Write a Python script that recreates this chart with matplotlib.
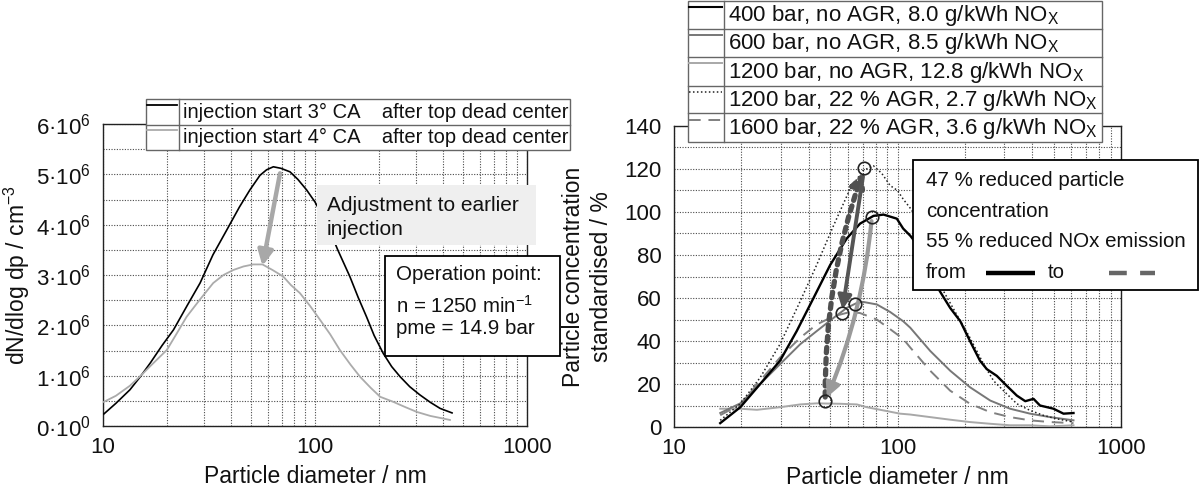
import matplotlib
matplotlib.use('Agg')
import matplotlib.pyplot as plt
from matplotlib.patches import Rectangle
from matplotlib.lines import Line2D
from matplotlib.ticker import FixedLocator, MultipleLocator, LogLocator, NullFormatter, FuncFormatter

plt.rcParams['font.family'] = ['Liberation Sans', 'DejaVu Sans']
plt.rcParams['mathtext.fontset'] = 'custom'
plt.rcParams['mathtext.rm'] = 'Liberation Sans'
plt.rcParams['mathtext.it'] = 'Liberation Sans:italic'
plt.rcParams['mathtext.bf'] = 'Liberation Sans:bold'

# ---------------- data: left chart (dN/dlog dp in 1e6 cm^-3) ----------------
left_labels = ["injection start 3\u00b0 CA    after top dead center",
               "injection start 4\u00b0 CA    after top dead center"]
d_3ca = [10.1, 11.5, 13.4, 15, 16.7, 19, 21.5, 25, 28.7, 33, 38.3, 44, 49.3, 55, 59.1,
         63.6, 69, 76.2, 83, 91.3, 100, 113.5, 128, 146, 160, 175, 190, 210, 230, 252,
         280, 312, 350, 389, 443]
n_3ca = [0.24, 0.45, 0.72, 0.98, 1.25, 1.6, 1.91, 2.4, 2.84, 3.4, 3.89, 4.35, 4.69, 4.98, 5.09,
         5.15, 5.12, 5.05, 4.9, 4.69, 4.45, 4.03, 3.5, 2.97, 2.55, 2.17, 1.8, 1.44, 1.18, 0.98,
         0.78, 0.62, 0.47, 0.35, 0.26]
d_4ca = [10.1, 11.5, 13.4, 14.9, 17, 20, 22, 24.8, 28.5, 33.1, 37, 41.2, 46, 51.1, 56.5,
         63, 70.8, 77, 84.9, 95, 105.6, 118, 131, 147, 163, 183, 203, 234, 265, 302, 350,
         390, 433]
n_4ca = [0.48, 0.6, 0.8, 0.98, 1.22, 1.51, 1.8, 2.17, 2.5, 2.84, 3.0, 3.1, 3.17, 3.21, 3.21,
         3.1, 2.97, 2.8, 2.64, 2.38, 2.11, 1.82, 1.51, 1.22, 0.98, 0.76, 0.58, 0.48, 0.38,
         0.28, 0.2, 0.16, 0.12]
left_arrow_d = [68.4, 56.5]
left_arrow_n = [5.02, 3.18]

# ---------------- data: right chart (standardised %) ----------------
right_labels = ["400 bar, no AGR, 8.0 g/kWh NO$_\\mathregular{X}$",
                "600 bar, no AGR, 8.5 g/kWh NO$_\\mathregular{X}$",
                "1200 bar, no AGR, 12.8 g/kWh NO$_\\mathregular{X}$",
                "1200 bar, 22 % AGR, 2.7 g/kWh NO$_\\mathregular{X}$",
                "1600 bar, 22 % AGR, 3.6 g/kWh NO$_\\mathregular{X}$"]
d_400 = [16.1, 19.8, 24.3, 29.8, 35.4, 42.1, 50, 59.3, 68, 78.1, 86.6, 99.3, 106, 114, 118,
         130, 142, 155, 172, 191, 211, 234, 251, 278, 308, 342, 373, 406, 434, 499, 553, 613]
v_400 = [1.8, 9.2, 20, 30.8, 44.6, 60, 75.4, 87.7, 94.6, 98.2, 98.8, 96.9, 92.3, 89, 87,
         78, 70, 63, 55.4, 49.2, 40, 30.8, 26.9, 23.8, 19.2, 14.6, 12, 13.1, 10, 8.5, 6.2, 6.5]
d_600 = [16.1, 19.8, 24.3, 29.8, 36.7, 43.5, 51.8, 59.3, 65.8, 70, 80.8, 92.7, 106, 114,
         140, 172, 211, 260, 319, 392, 482, 613]
v_600 = [6.5, 11, 20, 29.2, 38.5, 44.6, 50.8, 55.4, 57.7, 58.2, 57, 53.5, 49.2, 46.2,
         35.4, 26.2, 18.5, 12.3, 8.5, 6.2, 4.6, 3.1]
d_1200 = [16.1, 19.8, 23.5, 29.8, 36.7, 43.5, 55.4, 65.8, 72.9, 86.6, 102.8, 114, 140, 172,
          211, 260, 319, 392, 482, 613]
v_1200 = [8.5, 8.5, 8, 9.2, 10.5, 11, 10.8, 10.5, 9.2, 7.7, 6.2, 5.8, 4.6, 3.4,
          2.3, 1.5, 0.8, 0.8, 0.3, 0.8]
d_1200agr = [16.1, 19.8, 24.3, 29.8, 36.7, 43.5, 51.8, 61.4, 70, 78, 85, 92.7, 100, 106, 116,
             130, 145, 161, 184, 211, 243, 269, 298, 342, 392, 450, 516, 613]
v_1200agr = [3.1, 10.8, 23, 38.5, 58.5, 75.4, 93.8, 110.8, 119.2, 121.5, 118, 112.3, 110, 106,
             100.8, 88, 75, 63, 52.3, 41.5, 29.2, 21.5, 16.9, 10.8, 7.7, 5.4, 3.8, 2.3]
d_1600agr = [16.1, 19.8, 24.3, 29.8, 36.7, 43.5, 51.8, 61.4, 68, 80.8, 92.7, 106, 114, 140,
             172, 211, 260, 319, 392, 482, 613]
v_1600agr = [5.5, 10.5, 21.5, 32.3, 41.5, 47.7, 51.5, 53.5, 53, 50, 45.5, 41, 37, 26.2,
             16.9, 10.8, 6.9, 4.6, 3.1, 2.3, 1.8]
circle_d = [71, 76.8, 64.6, 56.4, 47.5]
circle_v = [120.3, 97.7, 57.4, 52.8, 12]

W, H = 1200, 490
fig = plt.figure(figsize=(12, 4.9), dpi=100)


def P(px, py):
    return (px / W, 1 - py / H)


def style(ax, ymax, ymajor, yminor):
    ax.set_xscale('log')
    ax.set_xlim(10, 1000)
    ax.set_ylim(0, ymax)
    ax.xaxis.set_major_locator(FixedLocator([10, 100, 1000]))
    ax.xaxis.set_minor_locator(LogLocator(base=10, subs=range(2, 10)))
    ax.xaxis.set_minor_formatter(NullFormatter())
    ax.xaxis.set_major_formatter(FuncFormatter(lambda v, p: f'{v:g}'))
    ax.yaxis.set_major_locator(MultipleLocator(ymajor))
    ax.yaxis.set_minor_locator(MultipleLocator(yminor))
    ax.grid(True, which='both', color='#4a4a4a', lw=0.8, ls=(0, (1, 1.4)))
    ax.tick_params(which='both', length=0, labelsize=16, labelcolor='#111111')
    ax.tick_params(axis='x', pad=8)
    ax.tick_params(axis='y', pad=9)
    for s in ax.spines.values():
        s.set_color('#222222')
        s.set_linewidth(1)
    ax.set_axisbelow(True)
    ax.set_xlabel('Particle diameter / nm', fontsize=16.5, color='#111111')
    ax.xaxis.set_label_coords(0.5, -0.13)


def rect(px0, py0, px1, py1, fc='white', ec='#555555', lw=1.0, z=5):
    x0, y1 = P(px0, py1)
    r = Rectangle((x0, y1), (px1 - px0) / W, (py1 - py0) / H, transform=fig.transFigure,
                  fc=fc, ec=ec, lw=lw, zorder=z)
    fig.add_artist(r)


def hline(px0, px1, py, **kw):
    (x0, y), (x1, _) = P(px0, py), P(px1, py)
    fig.add_artist(Line2D([x0, x1], [y, y], transform=fig.transFigure, zorder=6, **kw))


def vline(px, py0, py1, **kw):
    (x, y0), (_, y1) = P(px, py0), P(px, py1)
    fig.add_artist(Line2D([x, x], [y0, y1], transform=fig.transFigure, zorder=6, **kw))


def ftext(px, py, s, size, **kw):
    x, y = P(px, py)
    fig.text(x, y, s, fontsize=size, va='center', ha='left', zorder=7, color='#111111', **kw)


def sci_label(v, p):
    return '$\\mathregular{%d\u00b710^{%d}}$' % (round(v), 6 if v > 0 else 0)


# ---------------- left chart ----------------
axL = fig.add_axes([103 / W, 1 - 426 / H, 424 / W, 302 / H])
style(axL, 6, 1, 0.5)
axL.yaxis.set_major_formatter(FuncFormatter(sci_label))
axL.set_ylabel(r'dN/dlog dp / cm$^{\mathregular{-3}}$', fontsize=16.5, color='#111111')
axL.yaxis.set_label_coords(-0.168, 0.5)
axL.plot(d_3ca, n_3ca, color='black', lw=1.2, zorder=3)
axL.plot(d_4ca, n_4ca, color='#ababab', lw=1.3, zorder=3)

# annotation background box (light gray)
rect(317, 185, 536, 245, fc='#efefef', ec='none', z=2)
ftext(327, 205, 'Adjustment to earlier', 15)
ftext(327, 229, 'injection', 15)
axL.annotate('', xy=(left_arrow_d[1], left_arrow_n[1]), xytext=(left_arrow_d[0], left_arrow_n[0]),
             arrowprops=dict(arrowstyle='-|>,head_length=0.9,head_width=0.45', color='#a8a8a8',
                             lw=3.2, shrinkA=0, shrinkB=0), zorder=4)

# operation point box
rect(385, 256, 560, 356, ec='black', lw=1.3)
ftext(396, 275, 'Operation point:', 14.8)
ftext(396, 306, r'n = 1250 min$^{\mathregular{-1}}$', 14.8)
ftext(396, 329, 'pme = 14.9 bar', 14.8)

# left legend (table style)
rect(146, 99, 570, 150, ec='#666666', lw=1.0)
hline(146, 570, 124.5, color='#666666', lw=1.0)
vline(179, 99, 150, color='#666666', lw=1.0)
hline(147, 177, 105, color='black', lw=1.3)
hline(147, 177, 130, color='#ababab', lw=1.3)
ftext(183, 112, left_labels[0], 14.5)
ftext(183, 137, left_labels[1], 14.5)

# ---------------- right chart ----------------
axR = fig.add_axes([674 / W, 1 - 427 / H, 447 / W, 301 / H])
style(axR, 140, 20, 10)
axR.yaxis.set_major_formatter(FuncFormatter(lambda v, p: f'{v:g}'))
axR.set_ylabel('Particle concentration\nstandardised / %', fontsize=16.5, linespacing=1.3,
               color='#111111')
axR.yaxis.set_label_coords(-0.136, 0.5)

axR.plot(d_1200, v_1200, color='#a8a8a8', lw=1.4, zorder=3)
axR.plot(d_1600agr, v_1600agr, color='#808080', lw=1.4, ls=(0, (6, 4)), zorder=3)
axR.plot(d_600, v_600, color='#777777', lw=1.4, zorder=3)
axR.plot(d_1200agr, v_1200agr, color='#222222', lw=1.1, ls=(0, (1, 1.6)), zorder=3)
axR.plot(d_400, v_400, color='black', lw=1.7, zorder=3)

# arrows between operating points
axR.annotate('', xy=(circle_d[0], circle_v[0]), xytext=(circle_d[4], circle_v[4]),
             arrowprops=dict(arrowstyle='-|>,head_length=0.8,head_width=0.4', color='#505050',
                             lw=3.8, ls=(0, (1, 1.1)), shrinkA=3, shrinkB=3,
                             connectionstyle='arc3,rad=-0.09'), zorder=4)
axR.annotate('', xy=(circle_d[3], circle_v[3]), xytext=(circle_d[0], circle_v[0]),
             arrowprops=dict(arrowstyle='-|>,head_length=0.8,head_width=0.4', color='#555555',
                             lw=2.8, shrinkA=6, shrinkB=3), zorder=4)
axR.annotate('', xy=(circle_d[4], circle_v[4]), xytext=(circle_d[1], circle_v[1]),
             arrowprops=dict(arrowstyle='-|>,head_length=0.8,head_width=0.4', color='#9a9a9a',
                             lw=3.0, shrinkA=3, shrinkB=3, connectionstyle='arc3,rad=-0.08'),
             zorder=4)
axR.plot(circle_d, circle_v, ls='none', marker='o', ms=9, mfc='none', mec='#222222', mew=1.2,
         zorder=5)

# annotation box right
rect(913, 160, 1198, 290, ec='black', lw=1.3)
ftext(926, 180, '47 % reduced particle', 14.8)
ftext(926, 211, 'concentration', 14.8)
ftext(926, 241, '55 % reduced NOx emission', 14.8)
ftext(926, 272, 'from', 14.8)
ftext(1048, 272, 'to', 14.8)
hline(986, 1035, 272.5, color='black', lw=3.2, solid_capstyle='butt')
hline(1109, 1155, 272.5, color='#666666', lw=3.2, ls=(0, (4, 3)), dash_capstyle='butt')

# right legend (table style)
rows_y = [1, 29, 57, 86, 113, 142]
rect(688, 1, 1102, 142, ec='#666666', lw=1.0)
for y in rows_y[1:-1]:
    hline(688, 1102, y, color='#666666', lw=1.0)
vline(724, 1, 142, color='#666666', lw=1.0)
handle_styles = [dict(color='black', lw=1.5),
                 dict(color='#777777', lw=1.4),
                 dict(color='#a8a8a8', lw=1.4),
                 dict(color='#222222', lw=1.1, ls=(0, (1, 1.6))),
                 dict(color='#808080', lw=1.4, ls=(0, (6, 4)))]
for i, lab in enumerate(right_labels):
    hline(689, 722, rows_y[i] + 6.5, **handle_styles[i])
    ftext(728, (rows_y[i] + rows_y[i + 1]) / 2 + 1, lab, 16)

fig.savefig('out.png', dpi=100)
